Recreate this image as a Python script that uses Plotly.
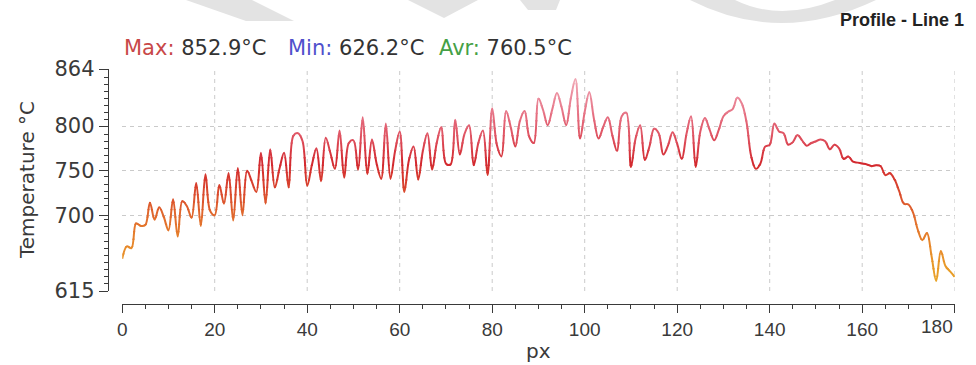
import numpy as np
import plotly.graph_objects as go

# ---- data -------------------------------------------------------------
px_pos = list(range(181))
temperature = [
    651, 665, 663, 691, 688, 689, 714, 695, 709, 698,
    683, 718, 676, 716, 710, 697, 736, 688, 746, 705,
    700, 734, 713, 747, 694, 753, 700, 750, 738, 726,
    770, 713, 774, 731, 752, 770, 731, 789, 792, 783,
    733, 756, 775, 738, 787, 770, 752, 795, 742, 781,
    784, 751, 810, 746, 785, 758, 741, 803, 741, 772,
    794, 726, 762, 777, 740, 772, 792, 751, 781, 799,
    758, 757, 807, 768, 791, 801, 756, 781, 795, 745,
    820, 779, 766, 817, 799, 777, 806, 817, 788, 781,
    831, 818, 801, 819, 837, 821, 801, 831, 852.9, 786,
    816, 838, 808, 786, 799, 810, 789, 772, 811, 815,
    754, 786, 801, 762, 777, 797, 792, 768, 778, 793,
    780, 763, 791, 811, 754, 794, 809, 796, 784, 796,
    811, 816, 819, 832, 825, 804, 766, 752, 758, 777,
    779, 803, 794, 792, 779, 782, 790, 784, 778, 781,
    783, 785, 783, 774, 779, 775, 763, 766, 760, 759,
    758, 757, 755, 756, 755, 745, 747, 740, 727, 713,
    712, 703, 684, 672, 680, 654, 626.2, 660, 643, 637,
    631,
]
y_ticks = [615, 700, 750, 800, 864]
x_ticks = list(range(0, 181, 20))
stats = [("Max:", "852.9°C", "#c84848"),
         ("Min:", "626.2°C", "#5050cc"),
         ("Avr:", "760.5°C", "#45a045")]

# ---- geometry (pixels) -----------------------------------------------
W, H = 976, 365
PLOT_L, PLOT_R = 122.2, 954.7
PLOT_T, PLOT_B = 69.0, 291.0
Y_AXIS_X = 107.7
X_AXIS_Y = 304.0
X_LABEL_Y = 326.0
Y_MIN, Y_MAX = y_ticks[0], y_ticks[-1]
X_MIN, X_MAX = 0, 180
AXIS_COLOR = "#3a3a3a"
GRID_COLOR = "#cacaca"


def fx(p):
    return p / W


def fy(p):
    return (H - p) / H


x_dom = [fx(PLOT_L), fx(PLOT_R)]
y_dom = [fy(PLOT_B), fy(PLOT_T)]

# value -> colour ramp used for the profile line
ramp = [(615, (232, 172, 40)), (660, (232, 142, 42)), (700, (225, 106, 45)),
        (735, (216, 64, 46)), (760, (211, 42, 48)), (785, (221, 76, 90)),
        (810, (229, 108, 126)), (840, (237, 148, 164)), (864, (244, 185, 196))]


def ramp_color(v):
    vals = [r[0] for r in ramp]
    rgb = [np.interp(v, vals, [r[1][i] for r in ramp]) for i in range(3)]
    return "rgb(%d,%d,%d)" % tuple(int(round(c)) for c in rgb)


fig = go.Figure()

hidden = dict(mode="lines", line=dict(width=0, color="rgba(0,0,0,0)"),
              hoverinfo="skip", showlegend=False)
# carrier trace for the visible axes
fig.add_trace(go.Scatter(x=px_pos, y=temperature, xaxis="x", yaxis="y", **hidden))

# the profile is drawn once per value band; each band lives on its own
# hidden y axis whose domain is the band's slice of the plot area, so the
# spline is clipped to that slice and coloured by temperature
band_edges = np.linspace(Y_MIN, Y_MAX, 31)
scale = (PLOT_B - PLOT_T) / (Y_MAX - Y_MIN)
pad = 0.7 / scale
layout_axes = {}
n_bands = len(band_edges) - 1
for k in range(n_bands):
    lo, hi = band_edges[k] - pad, band_edges[k + 1] + pad
    d0 = y_dom[0] + (lo - Y_MIN) / (Y_MAX - Y_MIN) * (y_dom[1] - y_dom[0])
    d1 = y_dom[0] + (hi - Y_MIN) / (Y_MAX - Y_MIN) * (y_dom[1] - y_dom[0])
    layout_axes["yaxis%d" % (k + 2)] = dict(
        domain=[d0, d1], range=[lo, hi], visible=False, anchor="x2",
        fixedrange=True, showgrid=False, zeroline=False, automargin=False)
    fig.add_trace(go.Scatter(
        x=px_pos, y=temperature, mode="lines",
        line=dict(color=ramp_color((band_edges[k] + band_edges[k + 1]) / 2),
                  width=2.0, shape="spline", smoothing=1.0),
        hoverinfo="skip", showlegend=False,
        xaxis="x2", yaxis="y%d" % (k + 2)))

# minor ticks live on overlay axes that carry only tick marks
y_minor = [float(v) for v in np.arange(Y_MIN + 8, Y_MAX, 8)
           if all(abs(v - t) > 3 for t in y_ticks)]
x_minor = [v for v in range(X_MIN, X_MAX + 1, 5) if v % 20]
minor_y_id = n_bands + 2
layout_axes["yaxis%d" % minor_y_id] = dict(
    overlaying="y", anchor="free", position=fx(Y_AXIS_X), range=[Y_MIN, Y_MAX],
    tickmode="array", tickvals=y_minor, ticks="outside", ticklen=4,
    tickcolor=AXIS_COLOR, showticklabels=False, showline=False,
    showgrid=False, zeroline=False, fixedrange=True, automargin=False)
fig.add_trace(go.Scatter(x=px_pos, y=temperature, xaxis="x3",
                         yaxis="y%d" % minor_y_id, **hidden))

tick_font = dict(family="DejaVu Sans, Verdana, sans-serif", size=21, color=AXIS_COLOR)
xtick_font = dict(family="Liberation Sans, Arial, sans-serif", size=19, color=AXIS_COLOR)

# the last x label is set flush with the end of the axis (added below)
x_ticktext = [str(v) for v in x_ticks]
x_ticktext[-1] = ""

fig.update_layout(
    width=W, height=H, autosize=False,
    margin=dict(l=0, r=0, t=0, b=0, pad=0, autoexpand=False),
    paper_bgcolor="white", plot_bgcolor="rgba(0,0,0,0)",
    xaxis=dict(domain=x_dom, range=[X_MIN, X_MAX], anchor="free",
               position=fy(X_AXIS_Y), showgrid=False, zeroline=False,
               showline=True, linecolor=AXIS_COLOR, linewidth=1,
               tickmode="array", tickvals=x_ticks, ticktext=x_ticktext,
               ticks="outside", ticklen=8, tickcolor=AXIS_COLOR,
               tickfont=xtick_font, fixedrange=True, automargin=False),
    xaxis3=dict(overlaying="x", anchor="free", position=fy(X_AXIS_Y),
                range=[X_MIN, X_MAX], tickmode="array", tickvals=x_minor,
                ticks="outside", ticklen=4, tickcolor=AXIS_COLOR,
                showticklabels=False, showline=False, showgrid=False,
                zeroline=False, fixedrange=True, automargin=False),
    yaxis=dict(domain=y_dom, range=[Y_MIN, Y_MAX], anchor="free",
               position=fx(Y_AXIS_X), showgrid=True, gridcolor=GRID_COLOR,
               griddash="4px,4px", gridwidth=1, zeroline=False,
               showline=True, linecolor=AXIS_COLOR, linewidth=1,
               tickmode="array", tickvals=y_ticks,
               ticktext=[str(v) for v in y_ticks],
               ticks="outside", ticklen=9, tickcolor=AXIS_COLOR,
               tickfont=tick_font, fixedrange=True, automargin=False),
    xaxis2=dict(domain=x_dom, range=[X_MIN, X_MAX], visible=False,
                anchor="y2", showgrid=False, zeroline=False, fixedrange=True,
                automargin=False),
    **layout_axes,
)

fig.add_annotation(text=str(x_ticks[-1]), xref="x", yref="paper",
                   x=x_ticks[-1], y=fy(X_LABEL_Y), xanchor="right",
                   yanchor="middle", showarrow=False, font=xtick_font)

# vertical dashed grid (none at the left edge)
for v in x_ticks[1:]:
    fig.add_shape(type="line", xref="x", yref="y domain", x0=v, x1=v,
                  y0=0, y1=1, layer="below",
                  line=dict(color=GRID_COLOR, width=1, dash="4px,4px"))

# faint watermark remnants along the top edge
wm = "#e3e3e3"
wm_paths = [
    [(186, 0), (252, 0), (294, 21), (246, 21)],
    [(408, 0), (478, 0), (444, 18)],
    [(520, 0), (560, 0), (556, 10), (528, 10)],
]
for poly in wm_paths:
    path = "M " + " L ".join("%f,%f" % (fx(px_), fy(py_)) for px_, py_ in poly) + " Z"
    fig.add_shape(type="path", xref="paper", yref="paper", path=path,
                  fillcolor=wm, line=dict(width=0), layer="below")
fig.add_shape(type="path", xref="paper", yref="paper",
              path="M %f,%f Q %f,%f %f,%f L %f,%f Q %f,%f %f,%f Z" % (
                  fx(690), fy(0), fx(780), fy(46), fx(876), fy(0),
                  fx(835), fy(0), fx(780), fy(22), fx(735), fy(0)),
              fillcolor=wm, line=dict(width=0), layer="below")

ann_font = "DejaVu Sans, Verdana, sans-serif"
# chart title
fig.add_annotation(text="<b>Profile - Line 1</b>", xref="paper", yref="paper",
                   x=fx(966), y=fy(20), xanchor="right", yanchor="middle",
                   showarrow=False,
                   font=dict(family="Liberation Sans, Arial, sans-serif",
                             size=18, color="#222222"))

# statistics line
stat_x = [122, 286, 437]
for (lab, val, col), sx in zip(stats, stat_x):
    fig.add_annotation(text="<span style='color:%s'>%s</span> %s" % (col, lab, val),
                       xref="paper", yref="paper", x=fx(sx), y=fy(48),
                       xanchor="left", yanchor="middle", showarrow=False,
                       font=dict(family=ann_font, size=21, color="#333333"))

# axis titles
fig.add_annotation(text="Temperature °C", xref="paper", yref="paper",
                   x=fx(27), y=fy((PLOT_T + PLOT_B) / 2), textangle=-90,
                   xanchor="center", yanchor="middle", showarrow=False,
                   font=dict(family=ann_font, size=20, color=AXIS_COLOR))
fig.add_annotation(text="px", xref="paper", yref="paper",
                   x=fx((PLOT_L + PLOT_R) / 2), y=fy(351),
                   xanchor="center", yanchor="middle", showarrow=False,
                   font=dict(family=ann_font, size=20, color=AXIS_COLOR))

fig.write_html("out.html")
